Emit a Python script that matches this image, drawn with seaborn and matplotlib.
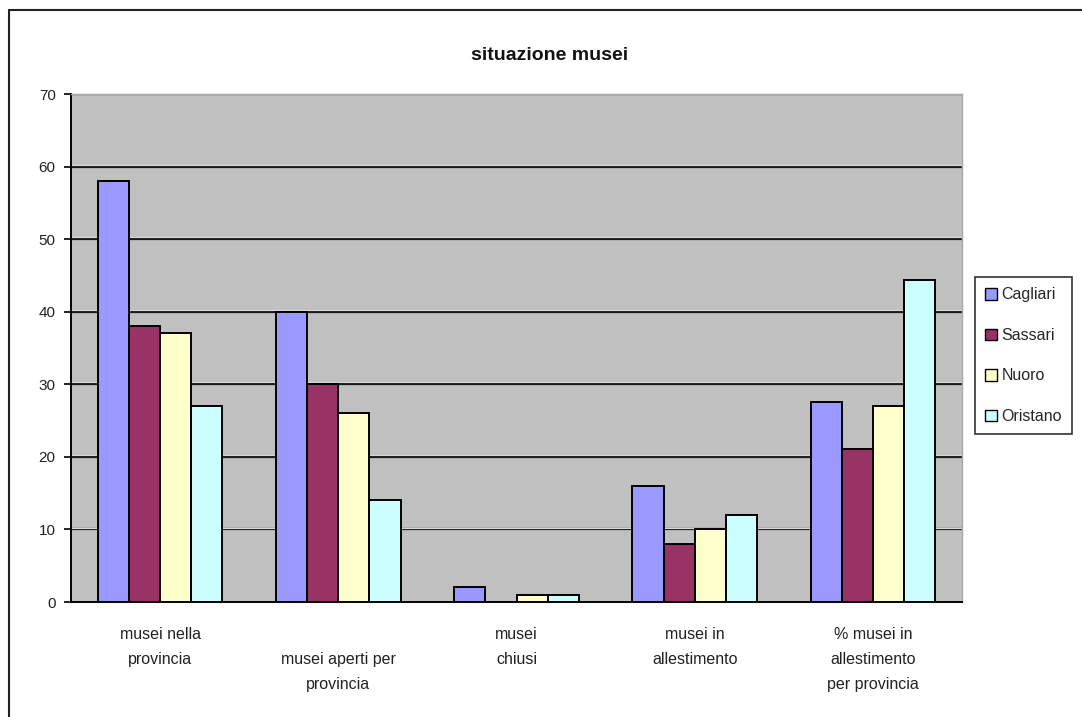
import matplotlib
matplotlib.use("Agg")
import matplotlib.pyplot as plt
import seaborn as sns
import pandas as pd
from matplotlib.lines import Line2D
from matplotlib.patches import Patch

# Data
categories = [
    "musei nella provincia",
    "musei aperti per provincia",
    "musei chiusi",
    "musei in allestimento",
    "% musei in allestimento per provincia",
]
tick_labels = [
    "musei nella\nprovincia",
    "\nmusei aperti per\nprovincia",
    "musei\nchiusi",
    "musei in\nallestimento",
    "% musei in\nallestimento\nper provincia",
]
provinces = ["Cagliari", "Sassari", "Nuoro", "Oristano"]
cagliari = [58, 40, 2, 16, 27.6]
sassari = [38, 30, 0, 8, 21.1]
nuoro = [37, 26, 1, 10, 27.0]
oristano = [27, 14, 1, 12, 44.4]
colors = ["#9999FF", "#993366", "#FFFFCC", "#CCFFFF"]
yticks = [0, 10, 20, 30, 40, 50, 60, 70]

series = {"Cagliari": cagliari, "Sassari": sassari, "Nuoro": nuoro, "Oristano": oristano}
rows = []
for prov in provinces:
    for cat, val in zip(categories, series[prov]):
        rows.append({"categoria": cat, "provincia": prov, "valore": val})
df = pd.DataFrame(rows)

sns.set_theme(style="white")
plt.rcParams["font.family"] = ["Liberation Sans", "DejaVu Sans"]

W, H = 1082, 717
fig = plt.figure(figsize=(W / 100, H / 100), dpi=100)
ax = fig.add_axes([71 / W, 1 - 602 / H, (962 - 71) / W, (602 - 94) / H])
ax.set_facecolor("#C0C0C0")

sns.barplot(
    data=df, x="categoria", y="valore", hue="provincia",
    order=categories, hue_order=provinces, palette=colors, saturation=1,
    width=0.7, edgecolor="black", linewidth=1.4, ax=ax, legend=False,
    zorder=3,
)

# Gridlines
for y in yticks[1:]:
    ax.axhline(y, color="#1a1a1a", lw=1.6, zorder=1)
    ax.axhline(y + 0.25, color="#d8d8d8", lw=0.8, zorder=1)

ax.set_ylim(0, 70)
ax.set_xlim(-0.5, len(categories) - 0.5)
ax.set_yticks(yticks)
ax.set_yticklabels([str(v) for v in yticks], fontsize=11, color="#222222")

ax.set_xticks(range(len(categories)))
ax.set_xticklabels(tick_labels, fontsize=11.5, color="#222222", linespacing=1.85,
                   va="top")
ax.set_xticks([i - 0.5 for i in range(len(categories) + 1)], minor=True)
ax.tick_params(axis="x", which="major", length=0, pad=18)
ax.tick_params(axis="x", which="minor", length=5, width=1.2, color="black", direction="out")
ax.tick_params(axis="y", which="major", length=5, width=1.2, color="black",
               direction="out", left=True, pad=6)
ax.set_xlabel("")
ax.set_ylabel("")

for side in ["left", "bottom"]:
    ax.spines[side].set_color("black")
    ax.spines[side].set_linewidth(1.4)
for side in ["top", "right"]:
    ax.spines[side].set_color("#a8a8a8")
    ax.spines[side].set_linewidth(1.0)

# Title
fig.text(550 / W, 1 - 55 / H, "situazione musei", ha="center", va="center",
         fontsize=14, fontweight="bold", color="#111111")

# Legend
handles = [Patch(facecolor=c, edgecolor="black", linewidth=1.0) for c in colors]
leg = fig.legend(handles, provinces, loc="upper left",
                 bbox_to_anchor=(975 / W, 1 - 277 / H),
                 frameon=True, fancybox=False, fontsize=11.5,
                 handlelength=0.75, handleheight=0.75, handletextpad=0.25,
                 labelspacing=1.6, borderpad=0.65, borderaxespad=0)
leg.get_frame().set_edgecolor("black")
leg.get_frame().set_linewidth(1.2)

# Outer chart frame (left and top edges)
fig.add_artist(Line2D([9 / W, 9 / W], [0, 1 - 10 / H], transform=fig.transFigure,
                      color="#222222", lw=1.5))
fig.add_artist(Line2D([9 / W, 1], [1 - 10 / H, 1 - 10 / H], transform=fig.transFigure,
                      color="#222222", lw=1.5))

fig.savefig("out.png", dpi=100, facecolor="white")
